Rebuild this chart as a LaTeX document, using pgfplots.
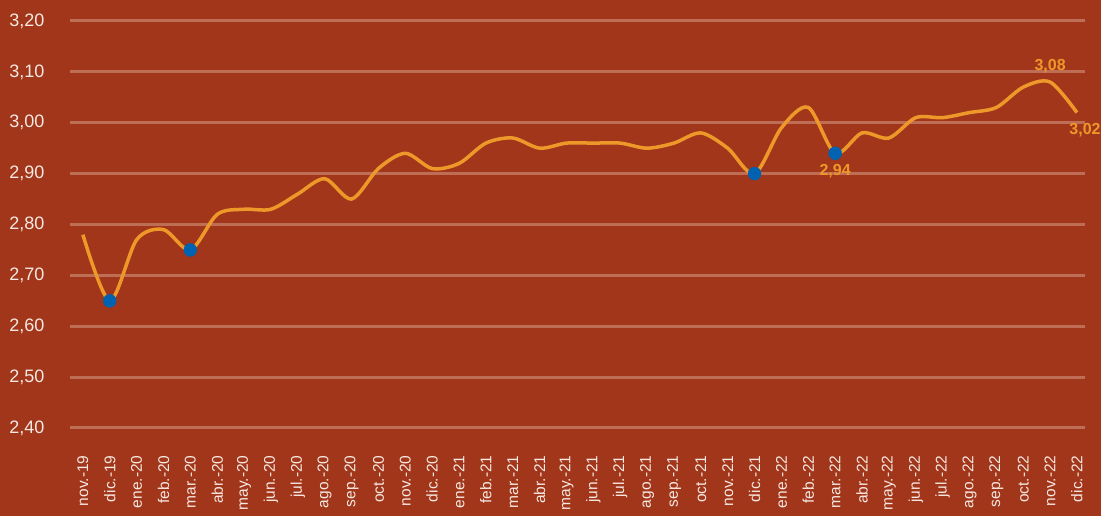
\documentclass[border=0pt]{standalone}
\usepackage{pgfplots}
\pgfplotsset{compat=1.18}
\usepackage{fontspec}
\setmainfont{Liberation Sans}
\definecolor{bg}{RGB}{161,54,26}
\definecolor{gridc}{RGB}{190,110,85}
\definecolor{linec}{RGB}{238,152,42}
\definecolor{dotc}{RGB}{0,98,176}
\definecolor{tickc}{RGB}{246,232,226}
\begin{document}
\begin{tikzpicture}
\fill[bg] (-70pt,-88pt) rectangle (1031pt,428pt);
\begin{axis}[
  at={(0,0)}, anchor=south west,
  scale only axis, width=1015pt, height=407pt,
  xmin=-0.48, xmax=37.3, ymin=2.40, ymax=3.20,
  axis line style={draw=none},
  major tick length=0pt,
  ytick={2.4,2.5,2.6,2.7,2.8,2.9,3.0,3.1,3.2},
  ymajorgrids, grid style={gridc, line width=3pt},
  xtick={0,...,37},
  xticklabels={nov.-19,dic.-19,ene.-20,feb.-20,mar.-20,abr.-20,may.-20,jun.-20,jul.-20,ago.-20,sep.-20,oct.-20,nov.-20,dic.-20,ene.-21,feb.-21,mar.-21,abr.-21,may.-21,jun.-21,jul.-21,ago.-21,sep.-21,oct.-21,nov.-21,dic.-21,ene.-22,feb.-22,mar.-22,abr.-22,may.-22,jun.-22,jul.-22,ago.-22,sep.-22,oct.-22,nov.-22,dic.-22},
  xticklabel style={rotate=90, anchor=east, font=\fontsize{15.5}{15.5}\selectfont, text=tickc, xshift=-24pt},
  yticklabel style={anchor=east, font=\fontsize{18}{18}\selectfont, text=tickc, xshift=-22pt},
  /pgf/number format/.cd, use comma, fixed, fixed zerofill, precision=2, assume math mode=true,
  /pgfplots/.cd,
  clip=false,
]
\addplot[linec, line width=3.5pt, smooth, tension=0.5] coordinates {
(0,2.78)(1,2.65)(2,2.77)(3,2.79)(4,2.75)(5,2.82)(6,2.83)(7,2.83)(8,2.86)(9,2.89)
(10,2.85)(11,2.91)(12,2.94)(13,2.91)(14,2.92)(15,2.96)(16,2.97)(17,2.95)(18,2.96)(19,2.96)
(20,2.96)(21,2.95)(22,2.96)(23,2.98)(24,2.95)(25,2.90)(26,2.99)(27,3.03)(28,2.94)(29,2.98)
(30,2.97)(31,3.01)(32,3.01)(33,3.02)(34,3.03)(35,3.07)(36,3.08)(37,3.02)};
\addplot[only marks, mark=*, mark size=6.5pt, dotc, mark options={fill=dotc, draw=dotc}] coordinates {
(1,2.65)(4,2.75)(25,2.90)(28,2.94)};
\node[font=\bfseries\fontsize{16}{16}\selectfont, text=linec, anchor=north] at (axis cs:28,2.925) {2,94};
\node[font=\bfseries\fontsize{16}{16}\selectfont, text=linec, anchor=south] at (axis cs:36,3.09) {3,08};
\node[font=\bfseries\fontsize{16}{16}\selectfont, text=linec, anchor=north] at (axis cs:37.3,3.005) {3,02};
\end{axis}
\pgfresetboundingbox
\useasboundingbox (-70pt,-88pt) rectangle (1031pt,428pt);
\end{tikzpicture}
\end{document}
